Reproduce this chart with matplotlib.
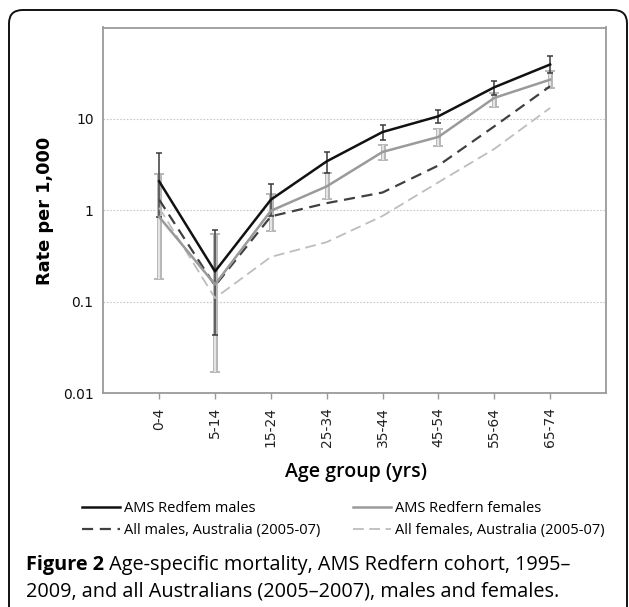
import matplotlib
matplotlib.use("Agg")
import matplotlib.pyplot as plt
from matplotlib.patches import FancyBboxPatch
import numpy as np

# ---- data ----
age_groups = ["0-4", "5-14", "15-24", "25-34", "35-44", "45-54", "55-64", "65-74"]

ams_males = [2.08, 0.215, 1.31, 3.44, 7.2, 10.7, 22.2, 39.4]
ams_males_lo = [0.85, 0.0435, 0.86, 2.57, 5.94, 9.05, 18.5, 31.9]
ams_males_hi = [4.25, 0.61, 1.94, 4.36, 8.5, 12.6, 26.3, 48.5]

ams_females = [0.85, 0.155, 0.99, 1.83, 4.36, 6.36, 17.0, 26.9]
ams_females_lo = [0.177, 0.0169, 0.59, 1.33, 3.53, 5.0, 13.5, 21.9]
ams_females_hi = [2.5, 0.55, 1.51, 2.57, 5.24, 7.78, 19.3, 33.2]

aus_males = [1.31, 0.15, 0.86, 1.2, 1.57, 3.1, 8.3, 22.8]
aus_females = [1.07, 0.11, 0.31, 0.45, 0.87, 2.03, 4.7, 13.2]

y_ticks = [0.01, 0.1, 1, 10]
y_ticklabels = ["0.01", "0.1", "1", "10"]

legend_labels = ["AMS Redfem males", "All males, Australia (2005-07)",
                 "AMS Redfern females", "All females, Australia (2005-07)"]

caption_bold = "Figure 2"
caption_rest1 = " Age-specific mortality, AMS Redfern cohort, 1995–"
caption_line2 = "2009, and all Australians (2005–2007), males and females."

# ---- figure ----
W, H = 629, 607
fig = plt.figure(figsize=(W / 100, H / 100), dpi=100)

# rounded frame
frame = FancyBboxPatch((9 / W, -0.1), (627 - 9) / W, 1.1 - 10 / H,
                       boxstyle="round,pad=0,rounding_size=0.022",
                       transform=fig.transFigure, facecolor="none",
                       edgecolor="#111111", linewidth=1.4, zorder=-1)
fig.add_artist(frame)

ax = fig.add_axes([103.3 / W, 1 - 393.3 / H, (606 - 103.3) / W, (393.3 - 27.5) / H])
ax.set_facecolor("white")
x = np.arange(len(age_groups))

def yerr(v, lo, hi):
    v = np.array(v); lo = np.array(lo); hi = np.array(hi)
    return np.vstack([v - lo, hi - v])

# female error bars (light, hollow look)
f_err = yerr(ams_females, ams_females_lo, ams_females_hi)
ax.errorbar(x, ams_females, yerr=f_err, fmt="none", ecolor="#b8b8b8",
            elinewidth=3.6, capsize=3.5, capthick=1.4, zorder=2)
ax.errorbar(x, ams_females, yerr=f_err, fmt="none", ecolor="#e6e6e6",
            elinewidth=1.4, capsize=0, zorder=2.1)
# male error bars (dark, thin)
ax.errorbar(x, ams_males, yerr=yerr(ams_males, ams_males_lo, ams_males_hi),
            fmt="none", ecolor="#3a3a3a", elinewidth=1.1, capsize=2.5, capthick=1.1, zorder=3)

l_f_aus, = ax.plot(x, aus_females, color="#bdbdbd", lw=1.3, ls=(0, (6, 3)), zorder=4)
l_m_aus, = ax.plot(x, aus_males, color="#404040", lw=1.6, ls=(0, (5, 3)), zorder=4)
l_f, = ax.plot(x, ams_females, color="#9a9a9a", lw=1.8, zorder=5)
l_m, = ax.plot(x, ams_males, color="#111111", lw=1.8, zorder=6)

ax.set_yscale("log")
ax.set_ylim(0.01, 100)
ax.set_xlim(-1, 8)
ax.set_yticks(y_ticks)
ax.set_yticklabels(y_ticklabels)
ax.minorticks_off()
ax.set_xticks(x)
ax.set_xticklabels(age_groups, rotation=90, fontsize=10, color="#222222")
ax.tick_params(axis="y", length=0, pad=7, labelsize=10, labelcolor="#111111")
ax.tick_params(axis="x", length=4, width=1, color="#999999", pad=6)
for s in ax.spines.values():
    s.set_color("#9a9a9a")
    s.set_linewidth(1.3)
ax.grid(axis="y", which="major", color="#c8c8c8", lw=0.8, ls=(0, (1.5, 1.5)))
ax.set_axisbelow(True)

ax.set_ylabel("Rate per 1,000", fontsize=12.8, fontweight="bold", labelpad=6)
fig.text(356 / W, 1 - 472 / H, "Age group (yrs)", ha="center", va="center",
         fontsize=14, family="Open Sans", fontweight="semibold")

handles = [l_m, l_m_aus, l_f, l_f_aus]
leg = fig.legend(handles, legend_labels, ncol=2, frameon=False,
                 loc="upper left", bbox_to_anchor=(82 / W, 1 - 501 / H),
                 prop={"family": "Open Sans", "size": 10.5},
                 handlelength=2.6, handletextpad=0.3, columnspacing=2.2,
                 labelspacing=0.5, borderpad=0, borderaxespad=0)

cap_fs = 14.3
t1 = fig.text(26 / W, 1 - 565 / H, caption_bold, ha="left", va="center",
              fontsize=cap_fs, family="Open Sans", fontweight="bold")
ax.annotate(caption_rest1, xy=(1, 0.5), xycoords=t1, ha="left", va="center",
            fontsize=cap_fs, family="Open Sans", annotation_clip=False)
fig.text(26 / W, 1 - 591.5 / H, caption_line2, ha="left", va="center",
         fontsize=cap_fs, family="Open Sans")

fig.savefig("out.png", dpi=100)
